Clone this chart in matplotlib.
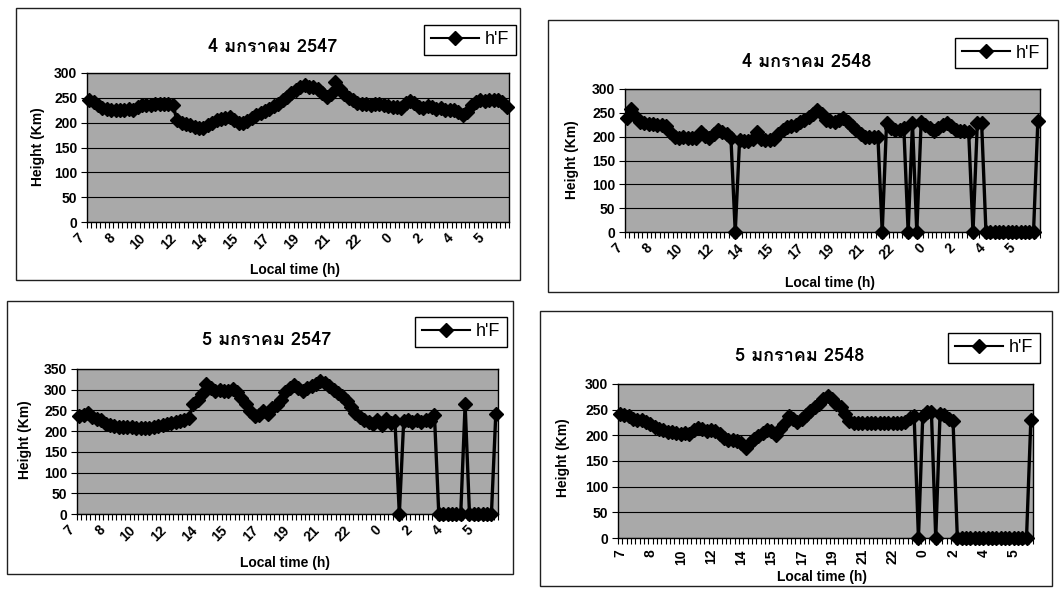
import numpy as np
import matplotlib
matplotlib.use("Agg")
import matplotlib.pyplot as plt
from matplotlib.patches import Rectangle
from matplotlib.lines import Line2D
from matplotlib.transforms import ScaledTranslation
from matplotlib import font_manager
from matplotlib.font_manager import FontProperties
from matplotlib.ft2font import FT2Font

# h'F virtual height (km), 15-minute samples from 07:00 local time to 06:45 next morning
time_labels = ["7", "8", "10", "12", "14", "15", "17", "19", "21", "22", "0", "2", "4", "5"]
label_every = 7

title_4jan47 = "4 มกราคม 2547"
title_4jan48 = "4 มกราคม 2548"
title_5jan47 = "5 มกราคม 2547"
title_5jan48 = "5 มกราคม 2548"

hF_4jan47 = [246, 242, 236, 230, 228, 226, 225, 225, 226, 228,
             226, 232, 236, 236, 236, 237, 237, 237, 237, 236,
             205, 200, 198, 195, 192, 190, 190, 195, 200, 205,
             207, 210, 212, 205, 200, 200, 204, 209, 215, 220,
             223, 228, 233, 238, 245, 252, 260, 266, 272, 275,
             272, 272, 268, 260, 252, 258, 282, 268, 258, 250,
             245, 240, 238, 238, 236, 238, 238, 236, 233, 232,
             232, 230, 240, 243, 240, 232, 230, 233, 232, 228,
             230, 226, 225, 226, 222, 216, 222, 235, 242, 245,
             244, 246, 245, 246, 242, 232]

hF_4jan48 = [240, 258, 242, 230, 228, 226, 226, 225, 224, 222,
             210, 200, 198, 200, 198, 198, 198, 210, 202, 198,
             205, 215, 210, 206, 198, 0, 192, 190, 190, 196,
             210, 196, 192, 192, 195, 205, 215, 220, 222, 225,
             230, 235, 242, 248, 255, 248, 235, 232, 230, 236,
             240, 230, 222, 215, 205, 200, 200, 200, 200, 0,
             228, 218, 215, 215, 218, 0, 228, 0, 230, 225,
             218, 212, 218, 225, 228, 222, 215, 212, 212, 210,
             0, 228, 228, 0, 0, 0, 0, 0, 0, 0,
             0, 0, 0, 0, 0, 232]

hF_5jan47 = [236, 240, 244, 234, 230, 226, 218, 214, 212, 210,
             210, 209, 209, 208, 208, 208, 208, 210, 212, 214,
             217, 220, 222, 224, 226, 232, 265, 275, 290, 315,
             305, 298, 300, 296, 298, 302, 295, 280, 265, 248,
             236, 240, 248, 242, 255, 262, 276, 294, 305, 312,
             305, 298, 303, 308, 315, 320, 316, 308, 300, 292,
             285, 272, 258, 245, 235, 226, 222, 218, 228, 215,
             230, 220, 225, 0, 225, 228, 222, 226, 222, 228,
             225, 240, 0, 0, 0, 0, 0, 0, 265, 0,
             0, 0, 0, 0, 0, 242]

hF_5jan48 = [242, 240, 238, 232, 230, 229, 226, 222, 216, 213,
             210, 207, 206, 204, 202, 205, 202, 210, 214, 212,
             208, 210, 208, 202, 195, 190, 190, 188, 186, 176,
             185, 192, 198, 205, 210, 208, 200, 212, 222, 238,
             232, 226, 232, 240, 248, 255, 262, 270, 276, 270,
             262, 255, 242, 228, 225, 225, 225, 225, 224, 225,
             225, 225, 225, 225, 224, 225, 226, 234, 238, 0,
             238, 245, 245, 0, 242, 240, 232, 228, 0, 0,
             0, 0, 0, 0, 0, 0, 0, 0, 0, 0,
             0, 0, 0, 0, 0, 230]

W, H = 1060, 596
LABEL_FONT = "Liberation Sans"


def thai_title_font():
    """Return FontProperties for a bold Thai-capable face (falls back gracefully)."""
    found = []
    for entry in font_manager.fontManager.ttflist:
        try:
            if 0x0E21 in FT2Font(entry.fname).get_charmap():
                w = entry.weight if isinstance(entry.weight, int) else 400
                found.append((entry.name, w, entry.style, entry.fname))
        except Exception:
            continue
    prefs = ("Norasi", "Noto Serif Thai", "Garuda", "Loma", "Noto Sans Thai", "TlwgTypo")
    for pref in prefs:
        for name, w, style, fname in found:
            if name == pref and w >= 600 and style == "normal":
                return FontProperties(fname=fname, size=13)
    for name, w, style, fname in found:
        if w >= 600 and style == "normal":
            return FontProperties(fname=fname, size=13)
    if found:
        return FontProperties(fname=found[0][3], size=13, weight="bold")
    return FontProperties(family="DejaVu Sans", size=13, weight="bold")


TITLE_FP = thai_title_font()


def fig_rect(x0, y0, x1, y1):
    return [x0 / W, 1 - y1 / H, (x1 - x0) / W, (y1 - y0) / H]


panels = [
    dict(values=hF_4jan47, title=title_4jan47, ymax=300, xrot=45,
         box=(16, 8, 520, 280), plot=(87, 73, 509, 222), title_xy=(273, 47),
         legend_xy=(470, 40), ylab_xy=(38, 147), xlab_xy=(295, 270)),
    dict(values=hF_4jan48, title=title_4jan48, ymax=300, xrot=45,
         box=(548, 20, 1058, 292), plot=(625, 89, 1040, 232), title_xy=(807, 62),
         legend_xy=(1001, 53), ylab_xy=(572, 160), xlab_xy=(830, 283)),
    dict(values=hF_5jan47, title=title_5jan47, ymax=350, xrot=45,
         box=(7, 301, 513, 574), plot=(77, 369, 498, 514), title_xy=(267, 340),
         legend_xy=(461, 332), ylab_xy=(25, 440), xlab_xy=(285, 563)),
    dict(values=hF_5jan48, title=title_5jan48, ymax=300, xrot=90,
         box=(540, 311, 1052, 586), plot=(618, 384, 1033, 538), title_xy=(800, 356),
         legend_xy=(994, 348), ylab_xy=(563, 458), xlab_xy=(822, 577)),
]

fig = plt.figure(figsize=(W / 100, H / 100), dpi=100)
fig.patch.set_facecolor("white")
shift_left = ScaledTranslation(-7 / 100, 0, fig.dpi_scale_trans)

for p in panels:
    vals = np.asarray(p["values"], dtype=float)
    n = len(vals)
    x = np.arange(n)

    # chart-area frame
    bx0, by0, bx1, by1 = p["box"]
    fig.patches.append(Rectangle((bx0 / W, 1 - by1 / H), (bx1 - bx0) / W, (by1 - by0) / H,
                                 transform=fig.transFigure, fill=False,
                                 edgecolor="#202020", linewidth=1.0))

    ax = fig.add_axes(fig_rect(*p["plot"]))
    ax.set_facecolor("#a9a9a9")
    ax.plot(x, vals, color="black", linewidth=2.4, marker="D", markersize=7,
            markerfacecolor="black", markeredgecolor="black", clip_on=False, zorder=3)

    ax.set_xlim(-0.5, n - 0.5)
    ax.set_ylim(0, p["ymax"])
    ax.set_yticks(np.arange(0, p["ymax"] + 1, 50))
    ax.yaxis.grid(True, color="black", linewidth=0.8)
    ax.set_axisbelow(True)

    major = np.arange(0, n, label_every)[:len(time_labels)]
    ax.set_xticks(major)
    if p["xrot"] == 90:
        ax.set_xticklabels(time_labels, rotation=90, ha="center", va="top")
        ax.tick_params(axis="x", which="major", length=0, pad=8)
    else:
        ax.set_xticklabels(time_labels, rotation=45, ha="right", va="center",
                           rotation_mode="anchor")
        ax.tick_params(axis="x", which="major", length=0, pad=10)
        for lab in ax.get_xticklabels():
            lab.set_transform(lab.get_transform() + shift_left)
    ax.set_xticks(np.arange(-0.5, n, 1.0), minor=True)
    ax.tick_params(axis="x", which="minor", length=4, width=0.8, direction="out")
    ax.tick_params(axis="y", length=4, width=0.8, direction="out", pad=3)
    for lab in ax.get_xticklabels() + ax.get_yticklabels():
        lab.set_fontfamily(LABEL_FONT)
        lab.set_fontweight("bold")
        lab.set_fontsize(10)
    for s in ax.spines.values():
        s.set_linewidth(1.0)
        s.set_color("black")

    fig.text(p["title_xy"][0] / W, 1 - p["title_xy"][1] / H, p["title"],
             ha="center", va="center", fontproperties=TITLE_FP)
    fig.text(p["ylab_xy"][0] / W, 1 - p["ylab_xy"][1] / H, "Height (Km)",
             rotation=90, ha="center", va="center", fontsize=10,
             fontweight="bold", family=LABEL_FONT)
    fig.text(p["xlab_xy"][0] / W, 1 - p["xlab_xy"][1] / H, "Local time (h)",
             ha="center", va="center", fontsize=10, fontweight="bold",
             family=LABEL_FONT)

    handle = Line2D([], [], color="black", linewidth=1.5, marker="D", markersize=7)
    leg = ax.legend([handle], ["h'F"], loc="center",
                    bbox_to_anchor=(p["legend_xy"][0] / W, 1 - p["legend_xy"][1] / H),
                    bbox_transform=fig.transFigure, frameon=True, fancybox=False,
                    edgecolor="black", framealpha=1, borderaxespad=0,
                    handlelength=2.7, handletextpad=0.3, borderpad=0.35,
                    prop={"family": LABEL_FONT, "size": 13})
    leg.get_frame().set_linewidth(1.0)

fig.savefig("out.png", dpi=100, facecolor="white")
